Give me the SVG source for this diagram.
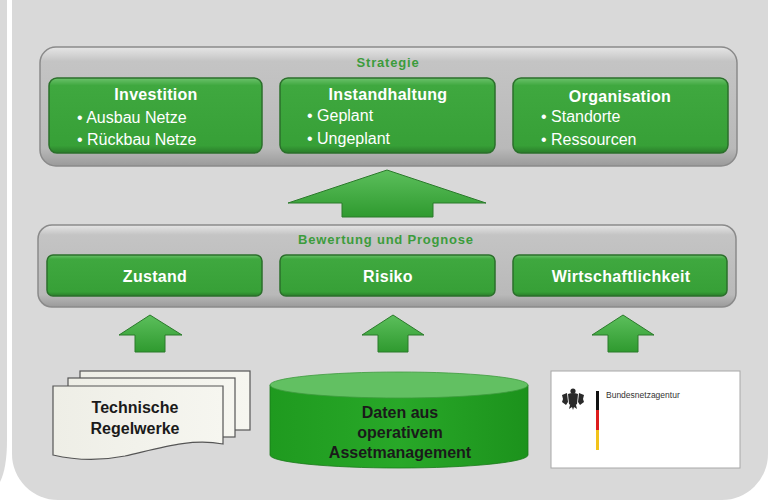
<svg xmlns="http://www.w3.org/2000/svg" width="769" height="500" viewBox="0 0 769 500">
<defs>
<linearGradient id="gBar" x1="0" y1="0" x2="0" y2="1">
<stop offset="0" stop-color="#e6e6e6"/>
<stop offset="0.12" stop-color="#c4c4c4"/>
<stop offset="0.85" stop-color="#b9b9b9"/>
<stop offset="1" stop-color="#9a9a9a"/>
</linearGradient>
<linearGradient id="gBox" x1="0" y1="0" x2="0" y2="1">
<stop offset="0" stop-color="#6cc26c"/>
<stop offset="0.1" stop-color="#3fa83f"/>
<stop offset="0.9" stop-color="#37a037"/>
<stop offset="1" stop-color="#2a7d2a"/>
</linearGradient>
<linearGradient id="gArrow" x1="0" y1="0" x2="0" y2="1">
<stop offset="0" stop-color="#5cbf5c"/>
<stop offset="1" stop-color="#2f9a2f"/>
</linearGradient>
<linearGradient id="gPaper" x1="0" y1="0" x2="1" y2="0">
<stop offset="0" stop-color="#eeeee6"/>
<stop offset="1" stop-color="#f6f6f0"/>
</linearGradient>
<linearGradient id="gCyl" x1="0" y1="0" x2="1" y2="0">
<stop offset="0" stop-color="#1f9a1f"/>
<stop offset="0.5" stop-color="#28a828"/>
<stop offset="1" stop-color="#1c921c"/>
</linearGradient>
</defs>
<style>
.bar{fill:url(#gBar);stroke:#8a8a8a;stroke-width:1.5}
.box{fill:url(#gBox);stroke:#2b6f2b;stroke-width:1.5}
.arrow{fill:url(#gArrow);stroke:#2b7a2b;stroke-width:1}
.lbl{font-family:"Liberation Sans",Arial,sans-serif;font-weight:bold;font-size:13px;letter-spacing:0.8px;fill:#3c9c3c;text-anchor:middle}
.ttl{font-family:"Liberation Sans",Arial,sans-serif;font-weight:bold;font-size:16px;letter-spacing:0.3px;fill:#ffffff;text-anchor:middle}
.itm{font-family:"Liberation Sans",Arial,sans-serif;font-size:16px;fill:#ffffff}
.dark{font-family:"Liberation Sans",Arial,sans-serif;font-weight:bold;font-size:16px;fill:#1a1a1a;text-anchor:middle}
.page{fill:url(#gPaper);stroke:#555555;stroke-width:1.2}
</style>

<rect x="0" y="0" width="769" height="500" fill="#ffffff"/>
<path d="M0,0 H7 V440 Q7,468 0,482 Z" fill="#d9d9d9"/>
<rect x="12" y="-60" width="756" height="560" rx="46" ry="46" fill="#d9d9d9"/>

<g id="strategie">
<rect class="bar" x="40" y="47" width="697" height="119" rx="16" ry="16"/>
<text class="lbl" x="388" y="67">Strategie</text>
</g>

<g id="investition">
<rect class="box" x="49" y="78" width="213" height="75" rx="8" ry="8"/>
<text class="ttl" x="156" y="100">Investition</text>
<text class="itm" x="77" y="123">• Ausbau Netze</text>
<text class="itm" x="77" y="145">• Rückbau Netze</text>
</g>

<g id="instandhaltung">
<rect class="box" x="280" y="78" width="215" height="75" rx="8" ry="8"/>
<text class="ttl" x="388" y="100">Instandhaltung</text>
<text class="itm" x="307" y="121">• Geplant</text>
<text class="itm" x="307" y="144">• Ungeplant</text>
</g>

<g id="organisation">
<rect class="box" x="513" y="78" width="215" height="75" rx="8" ry="8"/>
<text class="ttl" x="620" y="102">Organisation</text>
<text class="itm" x="541" y="122">• Standorte</text>
<text class="itm" x="541" y="145">• Ressourcen</text>
</g>

<g id="bewertung">
<rect class="bar" x="38" y="225" width="698" height="82" rx="14" ry="14"/>
<text class="lbl" x="386" y="244">Bewertung und Prognose</text>
</g>

<g id="zustand">
<rect class="box" x="47" y="255" width="215" height="41" rx="6" ry="6"/>
<text class="ttl" x="155" y="282">Zustand</text>
</g>

<g id="risiko">
<rect class="box" x="280" y="255" width="215" height="41" rx="6" ry="6"/>
<text class="ttl" x="388" y="282">Risiko</text>
</g>

<g id="wirtschaftlichkeit">
<rect class="box" x="513" y="255" width="214" height="41" rx="6" ry="6"/>
<text class="ttl" x="621" y="282">Wirtschaftlichkeit</text>
</g>

<g id="connectors">
<path class="arrow" d="M387,170 L486,203 L433,203 L433,217 L342,217 L342,203 L288,203 Z"/>
<path class="arrow" d="M150,315 L182,335 L165,335 L165,352 L135,352 L135,335 L119,335 Z"/>
<path class="arrow" d="M393,315 L424,335 L408,335 L408,352 L378,352 L378,335 L362,335 Z"/>
<path class="arrow" d="M623,315 L654,335 L638,335 L638,352 L608,352 L608,335 L592,335 Z"/>
</g>

<g id="regelwerke">
<rect class="page" x="80" y="371" width="170" height="59"/>
<rect class="page" x="68" y="378" width="167" height="59"/>
<path class="page" d="M53,386 H223 V444 C190,438 160,448 125,456 C95,462 70,459 53,455 Z"/>
<text class="dark" x="135" y="413">Technische</text>
<text class="dark" x="135" y="434">Regelwerke</text>
</g>

<g id="daten">
<path d="M270,385 V455 A129,13 0 0 0 528,455 V385 Z" fill="url(#gCyl)" stroke="#1a7a1a" stroke-width="0.8"/>
<ellipse cx="399" cy="385" rx="129" ry="13" fill="#62c062" stroke="#3d9a3d" stroke-width="0.8"/>
<text class="dark" x="400" y="418">Daten aus</text>
<text class="dark" x="400" y="438">operativem</text>
<text class="dark" x="400" y="458">Assetmanagement</text>
</g>

<g id="bundesnetzagentur">
<rect x="551" y="371" width="189" height="97" fill="#ffffff" stroke="#a8a8a8" stroke-width="1"/>
<g fill="#2a2a2a">
<circle cx="573" cy="391" r="2.6"/>
<path d="M568,394 Q573,392 578,394 L577,404 Q573,408 569,404 Z"/>
<path d="M567,393 L562,395 L563,399 L562,402 L566,405 L568,402 Z"/>
<path d="M579,393 L584,395 L583,399 L584,402 L580,405 L578,402 Z"/>
<path d="M570,405 L569,409 L572,407 L573,410 L574,407 L577,409 L576,405 Z"/>
</g>
<rect x="596" y="391" width="3" height="19" fill="#111111"/>
<rect x="596" y="410" width="3" height="20" fill="#dd1c1c"/>
<rect x="596" y="430" width="3" height="20" fill="#f2c21a"/>
<text x="606" y="398" font-family="Liberation Sans,Arial,sans-serif" font-size="8.5" fill="#333333">Bundesnetzagentur</text>
</g>
</svg>
